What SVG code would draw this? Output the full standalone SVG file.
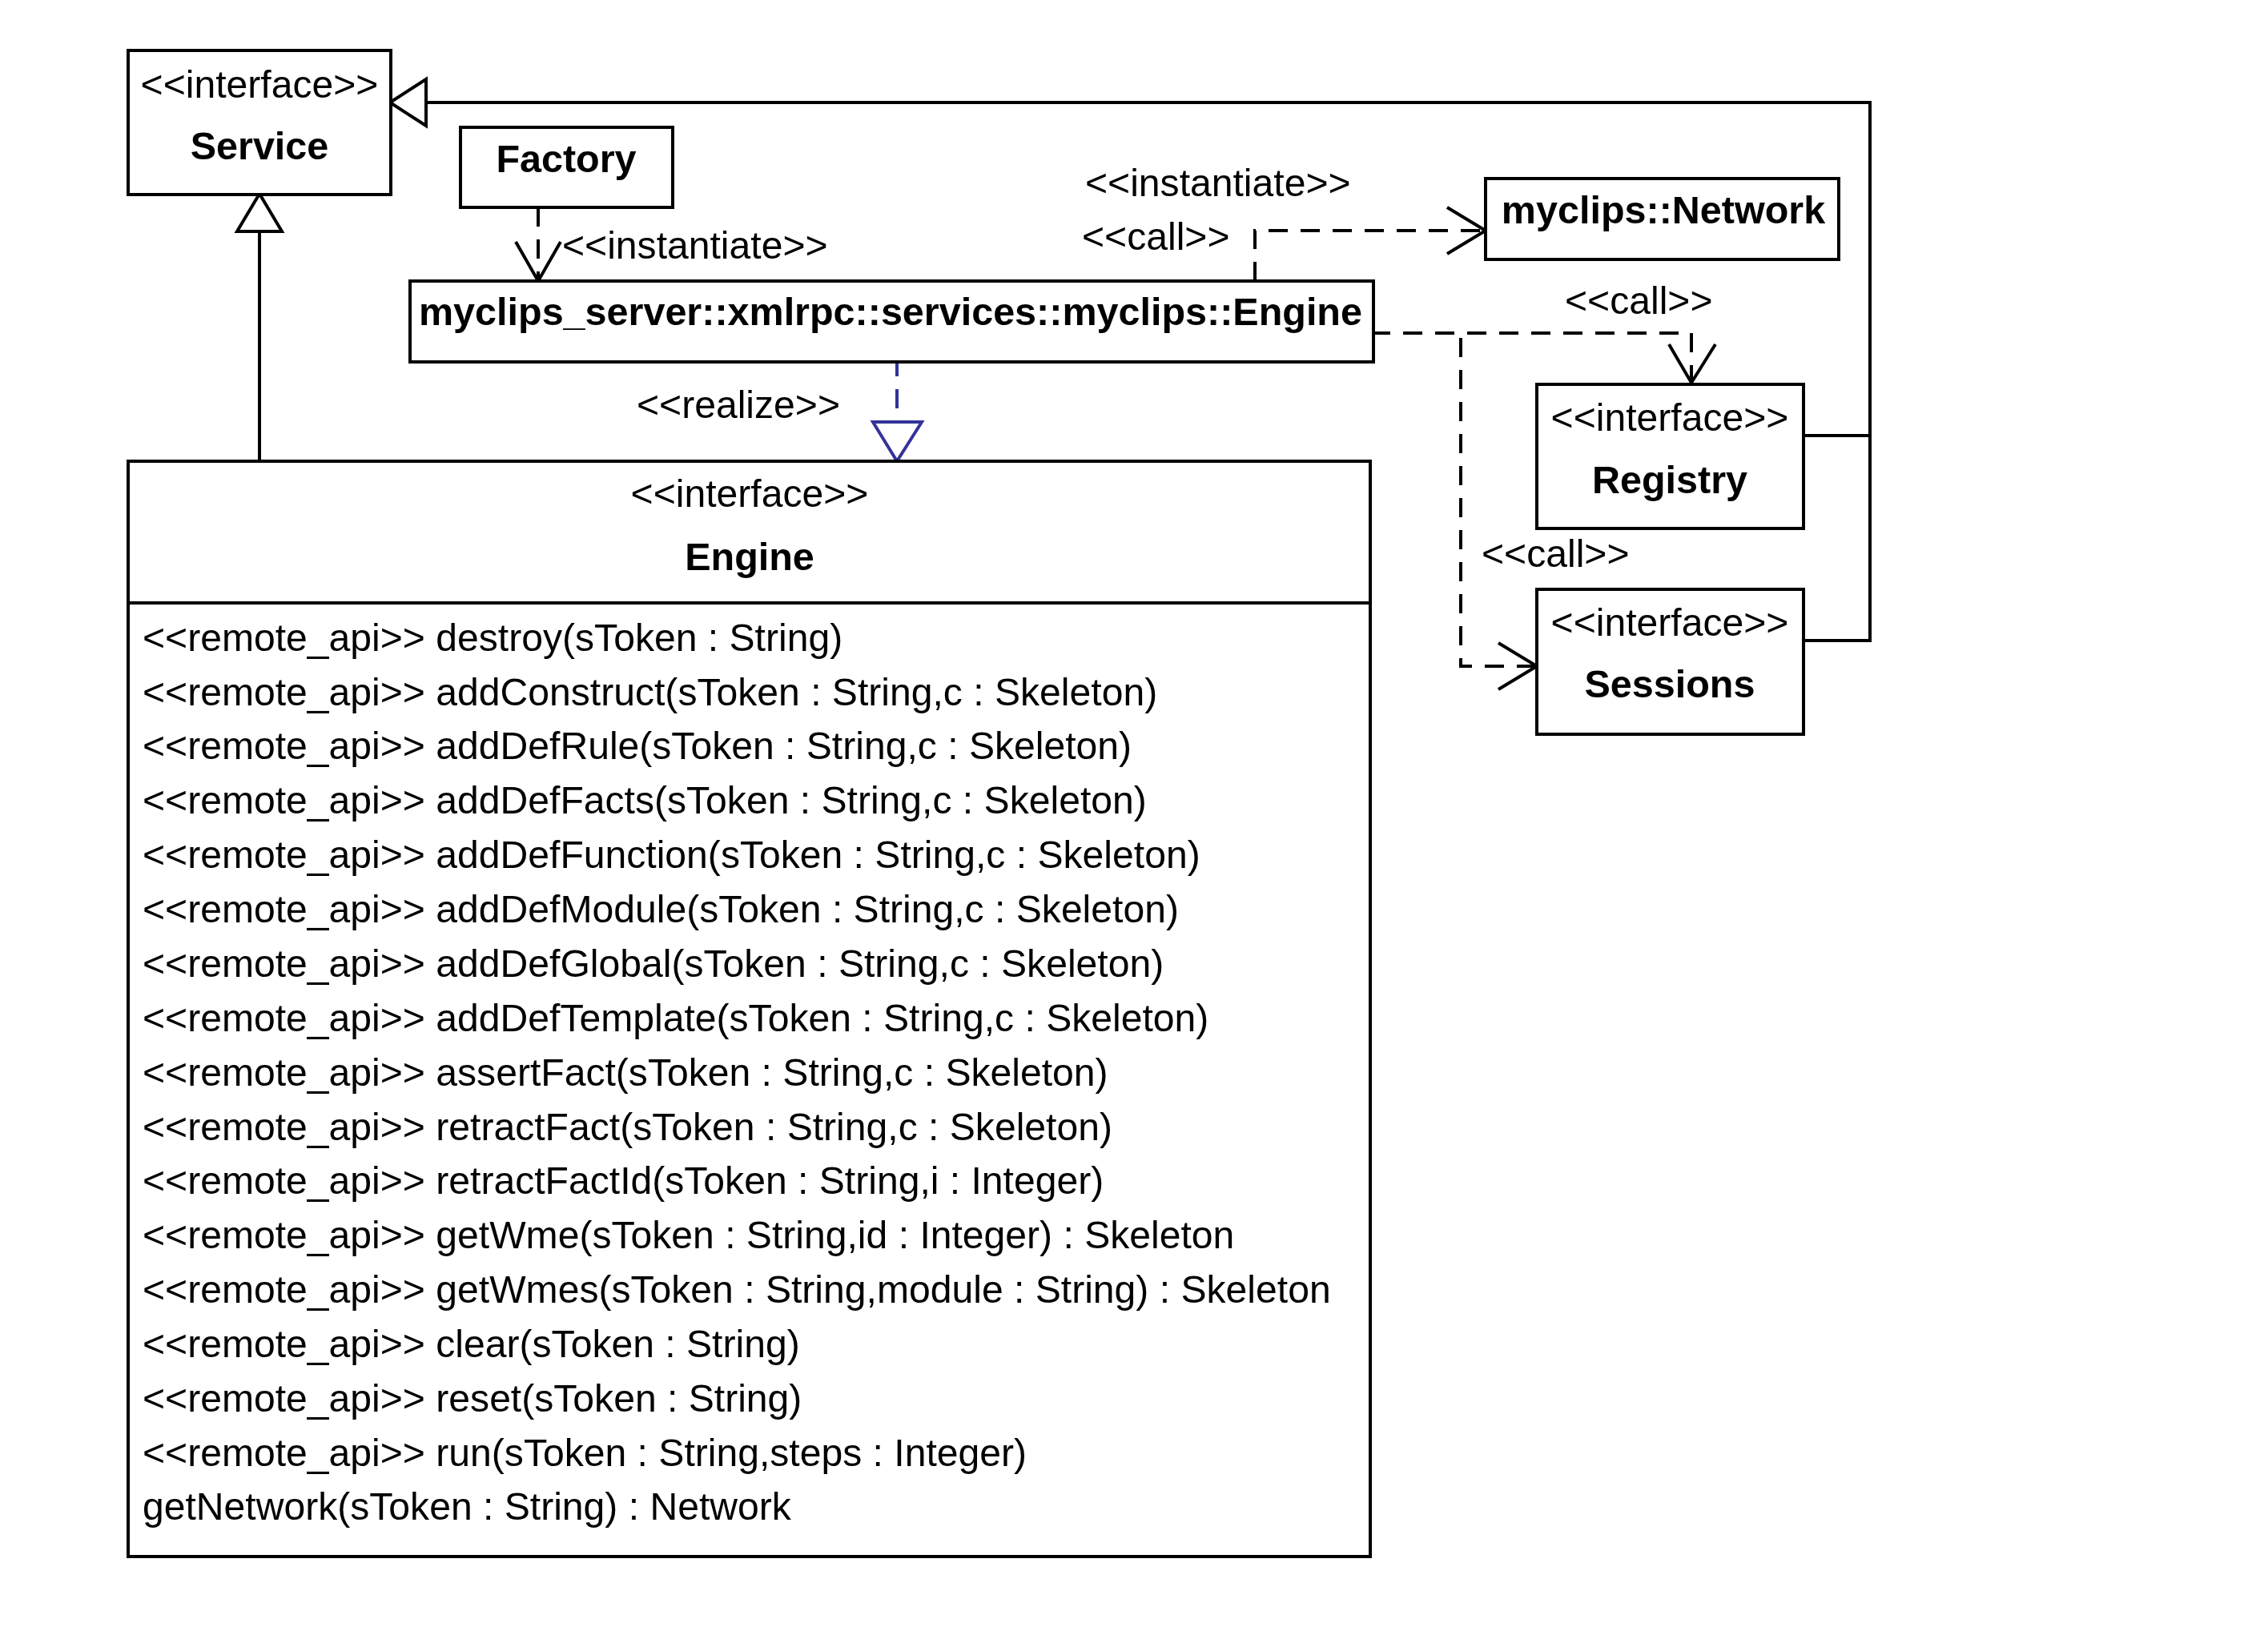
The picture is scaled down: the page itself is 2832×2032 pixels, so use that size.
<svg xmlns="http://www.w3.org/2000/svg" width="2832" height="2032" viewBox="0 0 2832 2032">
<style>
  .box { fill: #ffffff; stroke: #000000; stroke-width: 4; }
  .sep { stroke: #000000; stroke-width: 4; fill: none; }
  .t { font-family: "Liberation Sans", Arial, sans-serif; font-size: 48.1px; fill: #000000; }
  .b { font-family: "Liberation Sans", Arial, sans-serif; font-size: 48.5px; font-weight: bold; fill: #000000; }
  .c { text-anchor: middle; }
  .solid { stroke: #000000; stroke-width: 4; fill: none; }
  .dash { stroke: #000000; stroke-width: 4; fill: none; stroke-dasharray: 24 16; }
  .open { stroke: #000000; stroke-width: 4; fill: none; }
  .tri { stroke: #000000; stroke-width: 4; fill: #ffffff; }
  .real { stroke: #333399; stroke-width: 4; fill: none; stroke-dasharray: 24 16; }
  .realtri { stroke: #333399; stroke-width: 4; fill: #ffffff; }
</style>
<rect width="2832" height="2032" fill="#ffffff"/>

<g id="connectors">
  <!-- Engine (interface) generalizes Service -->
  <line class="solid" x1="324" y1="576" x2="324" y2="289"/>
  <polygon class="tri" points="324,242 296,289 352,289"/>
  <!-- Registry / Sessions generalize Service -->
  <polyline class="solid" points="2250,544 2335,544"/>
  <polyline class="solid" points="2250,800 2335,800 2335,128 532,128"/>
  <polygon class="tri" points="487,128 532,99 532,157"/>
  <!-- Factory instantiates Engine class -->
  <line class="dash" x1="672" y1="259" x2="672" y2="351"/>
  <polyline class="open" points="644,302 672,351 700,302"/>
  <!-- Engine class -> Network -->
  <polyline class="dash" points="1567,351 1567,288 1853,288"/>
  <polyline class="open" points="1807,259 1855,288 1807,317"/>
  <!-- Engine class -> Registry -->
  <polyline class="dash" points="1712,416 2112,416 2112,476"/>
  <polyline class="open" points="2084,430 2112,478 2142,430"/>
  <!-- Engine class -> Sessions -->
  <polyline class="dash" points="1824,422 1824,832 1917,832"/>
  <polyline class="open" points="1871,803 1919,832 1871,861"/>
  <!-- realize -->
  <line class="real" x1="1120" y1="446" x2="1120" y2="526"/>
  <polygon class="realtri" points="1090,527 1151,527 1120,576"/>
  <!-- labels -->
  <text class="t" x="702" y="323">&lt;&lt;instantiate&gt;&gt;</text>
  <text class="t" x="1355" y="245">&lt;&lt;instantiate&gt;&gt;</text>
  <text class="t" x="1351" y="312">&lt;&lt;call&gt;&gt;</text>
  <text class="t" x="1954" y="392">&lt;&lt;call&gt;&gt;</text>
  <text class="t" x="1850" y="708">&lt;&lt;call&gt;&gt;</text>
  <text class="t" x="795" y="522">&lt;&lt;realize&gt;&gt;</text>
</g>

<g id="Service">
  <rect class="box" x="160" y="63" width="328" height="180"/>
  <text class="t c" x="324" y="122">&lt;&lt;interface&gt;&gt;</text>
  <text class="b c" x="324" y="199">Service</text>
</g>

<g id="Factory">
  <rect class="box" x="575" y="159" width="265" height="100"/>
  <text class="b c" x="707" y="215">Factory</text>
</g>

<g id="EngineClass">
  <rect class="box" x="512" y="351" width="1203" height="101"/>
  <text class="b c" x="1112" y="406">myclips_server::xmlrpc::services::myclips::Engine</text>
</g>

<g id="Network">
  <rect class="box" x="1855" y="223" width="441" height="101"/>
  <text class="b c" x="2077" y="279">myclips::Network</text>
</g>

<g id="Registry">
  <rect class="box" x="1919" y="480" width="333" height="180"/>
  <text class="t c" x="2085" y="538">&lt;&lt;interface&gt;&gt;</text>
  <text class="b c" x="2085" y="616">Registry</text>
</g>

<g id="Sessions">
  <rect class="box" x="1919" y="736" width="333" height="181"/>
  <text class="t c" x="2085" y="794">&lt;&lt;interface&gt;&gt;</text>
  <text class="b c" x="2085" y="871">Sessions</text>
</g>

<g id="EngineInterface">
  <rect class="box" x="160" y="576" width="1551" height="1368"/>
  <line class="sep" x1="160" y1="753" x2="1711" y2="753"/>
  <text class="t c" x="936" y="633">&lt;&lt;interface&gt;&gt;</text>
  <text class="b c" x="936" y="712">Engine</text>
  <text class="t" x="178" y="813">&lt;&lt;remote_api&gt;&gt; destroy(sToken : String)</text>
  <text class="t" x="178" y="881">&lt;&lt;remote_api&gt;&gt; addConstruct(sToken : String,c : Skeleton)</text>
  <text class="t" x="178" y="948">&lt;&lt;remote_api&gt;&gt; addDefRule(sToken : String,c : Skeleton)</text>
  <text class="t" x="178" y="1016">&lt;&lt;remote_api&gt;&gt; addDefFacts(sToken : String,c : Skeleton)</text>
  <text class="t" x="178" y="1084">&lt;&lt;remote_api&gt;&gt; addDefFunction(sToken : String,c : Skeleton)</text>
  <text class="t" x="178" y="1152">&lt;&lt;remote_api&gt;&gt; addDefModule(sToken : String,c : Skeleton)</text>
  <text class="t" x="178" y="1220">&lt;&lt;remote_api&gt;&gt; addDefGlobal(sToken : String,c : Skeleton)</text>
  <text class="t" x="178" y="1288">&lt;&lt;remote_api&gt;&gt; addDefTemplate(sToken : String,c : Skeleton)</text>
  <text class="t" x="178" y="1356">&lt;&lt;remote_api&gt;&gt; assertFact(sToken : String,c : Skeleton)</text>
  <text class="t" x="178" y="1424">&lt;&lt;remote_api&gt;&gt; retractFact(sToken : String,c : Skeleton)</text>
  <text class="t" x="178" y="1491">&lt;&lt;remote_api&gt;&gt; retractFactId(sToken : String,i : Integer)</text>
  <text class="t" x="178" y="1559">&lt;&lt;remote_api&gt;&gt; getWme(sToken : String,id : Integer) : Skeleton</text>
  <text class="t" x="178" y="1627">&lt;&lt;remote_api&gt;&gt; getWmes(sToken : String,module : String) : Skeleton</text>
  <text class="t" x="178" y="1695">&lt;&lt;remote_api&gt;&gt; clear(sToken : String)</text>
  <text class="t" x="178" y="1763">&lt;&lt;remote_api&gt;&gt; reset(sToken : String)</text>
  <text class="t" x="178" y="1831">&lt;&lt;remote_api&gt;&gt; run(sToken : String,steps : Integer)</text>
  <text class="t" x="178" y="1898">getNetwork(sToken : String) : Network</text>
</g>
</svg>
